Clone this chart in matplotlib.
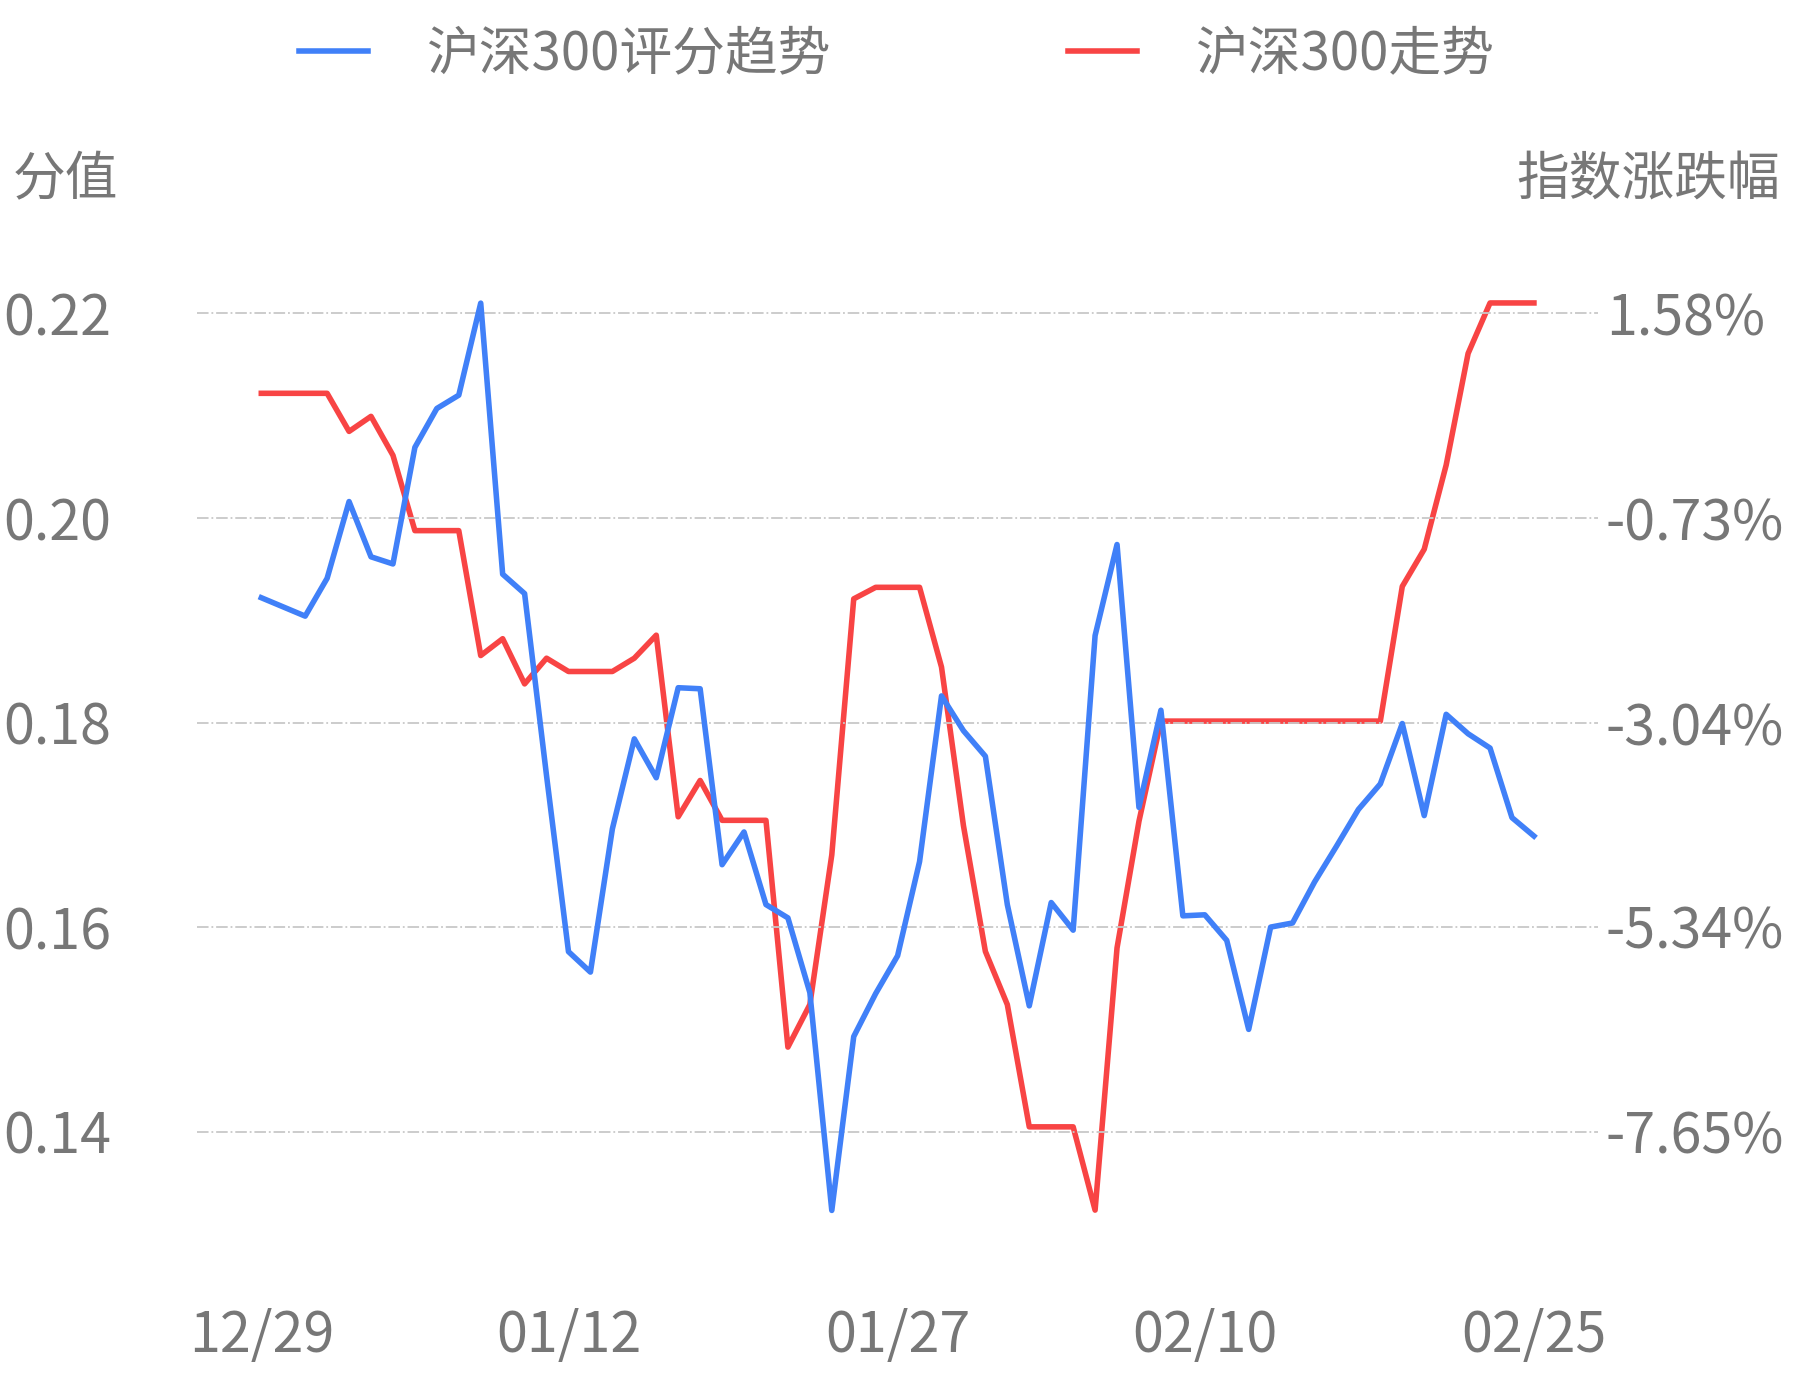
import matplotlib.pyplot as plt

plt.rcParams['font.family'] = ['Noto Sans CJK SC', 'DejaVu Sans']

score = [0.1922, 0.1913, 0.1904, 0.1941, 0.2016, 0.1962, 0.1955, 0.2069, 0.2107, 0.2120,
         0.2210, 0.1945, 0.1926, 0.1748, 0.1576, 0.1556, 0.1696, 0.1784, 0.1746, 0.1834,
         0.1833, 0.1661, 0.1693, 0.1622, 0.1609, 0.1536, 0.1323, 0.1493, 0.1535, 0.1572,
         0.1664, 0.1826, 0.1792, 0.1767, 0.1622, 0.1523, 0.1624, 0.1597, 0.1885, 0.1974,
         0.1717, 0.1812, 0.1611, 0.1612, 0.1587, 0.1500, 0.1600, 0.1604, 0.1644, 0.1679,
         0.1715, 0.1740, 0.1799, 0.1709, 0.1808, 0.1789, 0.1775, 0.1707, 0.1689]
index_chg = [0.68, 0.68, 0.68, 0.68, 0.25, 0.42, -0.02, -0.87, -0.87, -0.87,
             -2.28, -2.09, -2.60, -2.31, -2.46, -2.46, -2.46, -2.31, -2.05, -4.10,
             -3.69, -4.14, -4.14, -4.14, -6.70, -6.22, -4.53, -1.64, -1.51, -1.51,
             -1.51, -2.41, -4.20, -5.62, -6.22, -7.60, -7.60, -7.60, -8.54, -5.58,
             -4.15, -3.02, -3.02, -3.02, -3.02, -3.02, -3.02, -3.02, -3.02, -3.02,
             -3.02, -3.02, -1.50, -1.08, -0.13, 1.13, 1.70, 1.70, 1.70]
date_ticks = [0, 14, 29, 43, 58]
date_labels = ['12/29', '01/12', '01/27', '02/10', '02/25']
left_ticks = [0.14, 0.16, 0.18, 0.20, 0.22]
right_ticks = [-7.65, -5.34, -3.04, -0.73, 1.58]
right_labels = ['-7.65%', '-5.34%', '-3.04%', '-0.73%', '1.58%']

blue = '#4080f8'
red = '#f84444'
gray = '#777777'

fig = plt.figure(figsize=(17.93, 13.8), dpi=100)
ax = fig.add_axes([0.11, 0.091, 0.781, 0.719])
ax2 = ax.twinx()

x = list(range(len(score)))
ax.plot(x, score, color=blue, lw=4, label='沪深300评分趋势', zorder=3)
ax2.plot(x, index_chg, color=red, lw=4, label='沪深300走势', zorder=3)

ax.set_xlim(-2.92, 60.9)
ax.set_ylim(0.128, 0.225)
ax2.set_ylim(-9.04, 2.16)

ax.set_yticks(left_ticks)
ax.set_yticklabels([f'{v:.2f}' for v in left_ticks])
ax2.set_yticks(right_ticks)
ax2.set_yticklabels(right_labels)
ax.set_xticks(date_ticks)
ax.set_xticklabels(date_labels)

ax.grid(axis='y', color='#c8c8c8', linestyle='-.', lw=1.3)
for a in (ax, ax2):
    for s in a.spines.values():
        s.set_visible(False)
    a.tick_params(length=0, labelsize=40, labelcolor=gray)
ax.tick_params(axis='y', pad=62)
ax.tick_params(axis='x', pad=38)
ax2.tick_params(axis='y', pad=6)
ax2.set_zorder(ax.get_zorder() + 1)
ax.set_zorder(2)
ax.patch.set_visible(False)

fig.text(0.007, 0.87, '分值', fontsize=38, color=gray, ha='left', va='center')
fig.text(0.993, 0.87, '指数涨跌幅', fontsize=38, color=gray, ha='right', va='center')

h1, l1 = ax.get_legend_handles_labels()
h2, l2 = ax2.get_legend_handles_labels()
fig.legend(h1 + h2, l1 + l2, loc='center', bbox_to_anchor=(0.5, 0.961), ncol=2,
           frameon=False, fontsize=38, labelcolor=gray, handlelength=1.3,
           handletextpad=1.1, columnspacing=4.5)

fig.savefig('out.png', dpi=100)
